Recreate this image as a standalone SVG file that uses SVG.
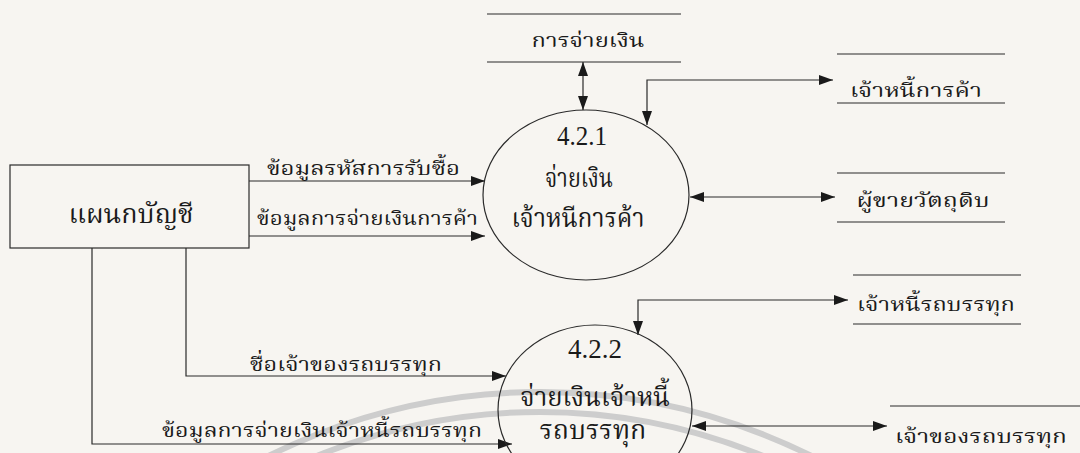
<svg xmlns="http://www.w3.org/2000/svg" width="1080" height="453" viewBox="0 0 1080 453">
<style>
.ln{fill:none;stroke:#2a2a2a;stroke-width:1.2}
.arr{fill:none;stroke:#2a2a2a;stroke-width:1.2;marker-end:url(#ah)}
.darr{fill:none;stroke:#2a2a2a;stroke-width:1.2;marker-end:url(#ah);marker-start:url(#ah)}
.t{font-family:"Liberation Serif","Noto Serif Thai","Noto Sans Thai",serif;fill:#1a1a1a}
.lb{font-size:20px}
.big{font-size:27px;text-anchor:middle}
.st{font-size:20px;text-anchor:middle}
.wm{fill:none;stroke:#cdcdcd;stroke-width:6}
</style>
<defs>
<marker id="ah" viewBox="0 0 14 10" refX="14" refY="5" markerWidth="14" markerHeight="10" markerUnits="userSpaceOnUse" orient="auto-start-reverse">
<path d="M0,0 L14,5 L0,10 z" fill="#1a1a1a"/>
</marker>
</defs>
<rect width="1080" height="453" fill="#f7f5f1"/>
<g id="watermark">
<circle class="wm" cx="540" cy="1000" r="608"/>
<circle class="wm" cx="540" cy="1000" r="588"/>
</g>
<g id="connectors">
<path class="darr" d="M583,62 V110"/>
<path class="darr" d="M833,80 H647 V125"/>
<path class="arr" d="M249,181 H485"/>
<path class="arr" d="M249,236 H485"/>
<path class="darr" d="M690,197 H835"/>
<path class="darr" d="M848,300 H638 V335"/>
<path class="arr" d="M186,248 V376 H506"/>
<path class="arr" d="M92,248 V444 H512"/>
<path class="darr" d="M692,426 H887"/>
<text class="t lb" x="267" y="175" textLength="193" lengthAdjust="spacingAndGlyphs">ข้อมูลรหัสการรับซื้อ</text>
<text class="t lb" x="257" y="225" textLength="221" lengthAdjust="spacingAndGlyphs">ข้อมูลการจ่ายเงินการค้า</text>
<text class="t lb" x="250" y="371" textLength="192" lengthAdjust="spacingAndGlyphs">ชื่อเจ้าของรถบรรทุก</text>
<text class="t lb" x="162" y="437" textLength="320" lengthAdjust="spacingAndGlyphs">ข้อมูลการจ่ายเงินเจ้าหนี้รถบรรทุก</text>
</g>
<g id="entity-accounting">
<rect class="ln" x="10" y="165" width="239" height="83"/>
<text class="t big" x="131" y="223" textLength="125" lengthAdjust="spacingAndGlyphs">แผนกบัญชี</text>
</g>
<g id="process-4.2.1">
<ellipse class="ln" cx="586" cy="195" rx="103" ry="85"/>
<text class="t big" x="582" y="145" textLength="50" lengthAdjust="spacingAndGlyphs">4.2.1</text>
<text class="t big" x="579" y="187" textLength="68" lengthAdjust="spacingAndGlyphs">จ่ายเงิน</text>
<text class="t big" x="578" y="227" textLength="133" lengthAdjust="spacingAndGlyphs">เจ้าหนีการค้า</text>
</g>
<g id="process-4.2.2">
<ellipse class="ln" cx="595" cy="410" rx="97" ry="85"/>
<text class="t big" x="595" y="358" textLength="54" lengthAdjust="spacingAndGlyphs">4.2.2</text>
<text class="t big" x="595" y="406" textLength="150" lengthAdjust="spacingAndGlyphs">จ่ายเงินเจ้าหนี้</text>
<text class="t big" x="593" y="439" textLength="107" lengthAdjust="spacingAndGlyphs">รถบรรทุก</text>
</g>
<g id="store-payment">
<path class="ln" d="M487,14 H681 M487,62 H681"/>
<text class="t st" x="588" y="47" textLength="113" lengthAdjust="spacingAndGlyphs">การจ่ายเงิน</text>
</g>
<g id="store-trade-creditor">
<path class="ln" d="M837,54 H1005 M837,103 H1005"/>
<text class="t st" x="916" y="97" textLength="132" lengthAdjust="spacingAndGlyphs">เจ้าหนี้การค้า</text>
</g>
<g id="store-supplier">
<path class="ln" d="M837,173 H1005 M837,222 H1005"/>
<text class="t st" x="923" y="207" textLength="133" lengthAdjust="spacingAndGlyphs">ผู้ขายวัตถุดิบ</text>
</g>
<g id="store-truck-creditor">
<path class="ln" d="M853,275 H1021 M853,324 H1021"/>
<text class="t st" x="936" y="311" textLength="158" lengthAdjust="spacingAndGlyphs">เจ้าหนี้รถบรรทุก</text>
</g>
<g id="store-truck-owner">
<path class="ln" d="M890,406 H1080"/>
<text class="t st" x="981" y="443" textLength="172" lengthAdjust="spacingAndGlyphs">เจ้าของรถบรรทุก</text>
</g>
</svg>
